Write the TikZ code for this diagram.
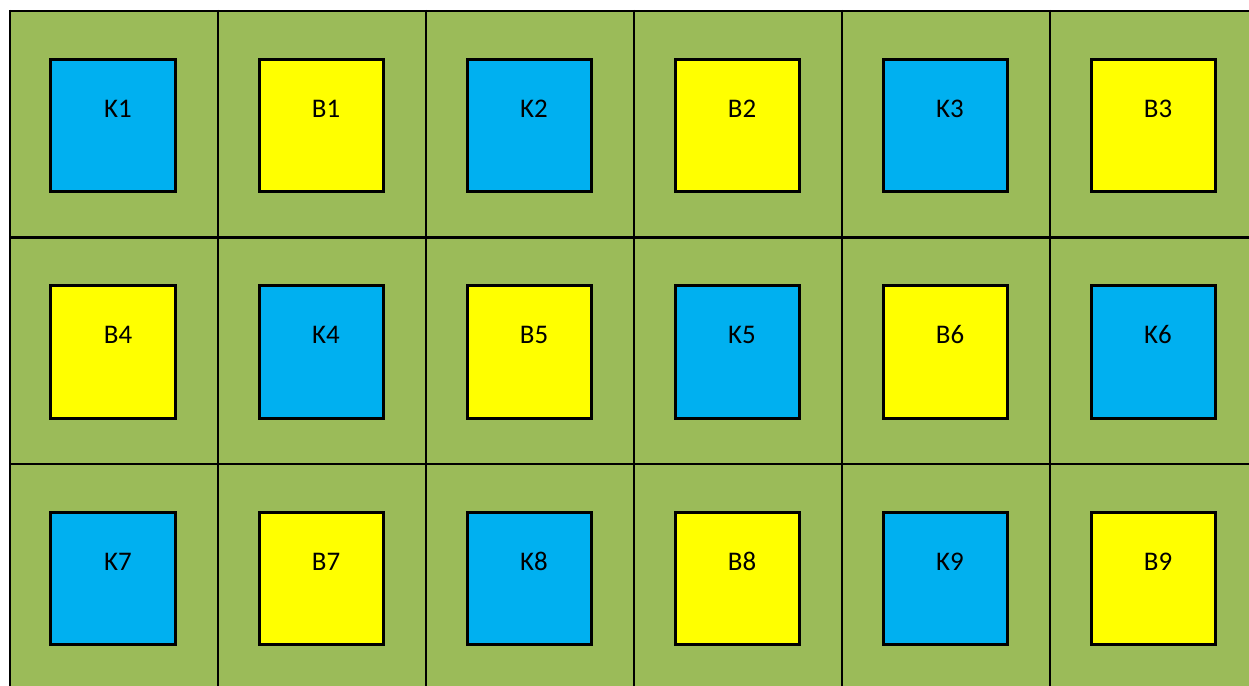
\documentclass[tikz,border=0pt]{standalone}
\usepackage{fontspec}
\setmainfont{Carlito}
\definecolor{cellgreen}{HTML}{9BBB59}
\definecolor{kblue}{HTML}{00B0F0}
\definecolor{byellow}{HTML}{FFFF00}
\begin{document}
\begin{tikzpicture}[x=1bp,y=-1bp,
  gridline/.style={line width=2.2bp,black},
  cellbox/.style={draw=black,line width=3bp,rectangle,minimum width=124bp,minimum height=132bp,inner sep=0pt},
  kbox/.style={cellbox,fill=kblue},
  bbox/.style={cellbox,fill=byellow},
  lbl/.style={font=\fontsize{27}{30}\selectfont,inner sep=0pt}]
\useasboundingbox (0,0) rectangle (1249,686);
\fill[cellgreen] (10,11) rectangle (1249,686);
\foreach \xx in {10,218,426,634,842,1050} \draw[gridline] (\xx,10) -- (\xx,686);
\foreach \yy in {11,237.5,464} \draw[gridline] (9,\yy) -- (1249,\yy);
\foreach \lab/\c/\r/\sty in {K1/0/0/kbox,B1/1/0/bbox,K2/2/0/kbox,B2/3/0/bbox,K3/4/0/kbox,B3/5/0/bbox,
  B4/0/1/bbox,K4/1/1/kbox,B5/2/1/bbox,K5/3/1/kbox,B6/4/1/bbox,K6/5/1/kbox,
  K7/0/2/kbox,B7/1/2/bbox,K8/2/2/kbox,B8/3/2/bbox,K9/4/2/kbox,B9/5/2/bbox}{
  \node[\sty] (box\lab) at ({113+208*\c},{125.5+226.5*\r}) {};
  \node[lbl] (t\lab) at ([xshift=5bp,yshift=17bp]box\lab.center) {\lab};
}
\end{tikzpicture}
\end{document}
